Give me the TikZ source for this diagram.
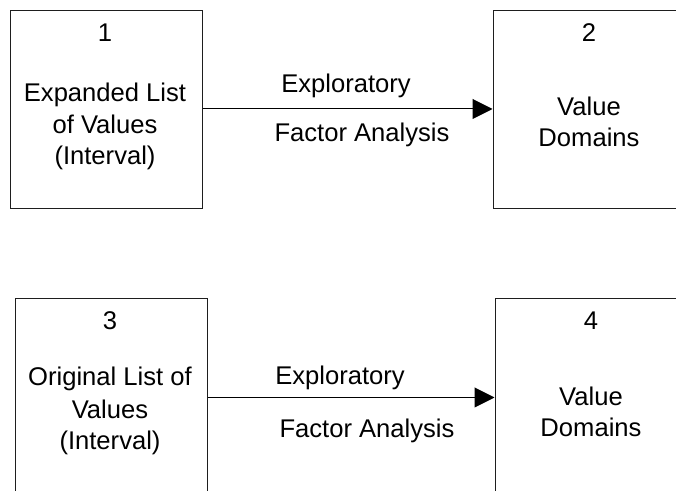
\documentclass[tikz,border=0pt]{standalone}
\usepackage{fontspec}
\setmainfont{Liberation Sans}
\usetikzlibrary{arrows.meta}
\definecolor{edge}{HTML}{1E1E1E}
\begin{document}
\begin{tikzpicture}[x=0.75pt,y=-0.75pt,
  box/.style={draw=edge,line width=0.75pt,rectangle,minimum width=144pt,minimum height=148.5pt,inner sep=0pt},
  txt/.style={anchor=base,inner sep=0pt,font=\fontsize{19.2pt}{23pt}\selectfont},
  flow/.style={draw=black,line width=0.75pt,-{Triangle[length=15pt,width=15pt]}}]
  \useasboundingbox (0,0) rectangle (676,491);
  \clip (0,0) rectangle (676,491);

  % stages
  \node[box] (b1) at (106,110) {};
  \node[box] (b2) at (589,110) {};
  \node[box] (b3) at (111,398) {};
  \node[box] (b4) at (591,398) {};

  % box 1
  \node[txt] (n1) at (105,42) {1};
  \node[txt] (t1a) at (105,102) {Expanded List};
  \node[txt] (t1b) at (105,134) {of Values};
  \node[txt] (t1c) at (105,165) {(Interval)};

  % box 2
  \node[txt] (n2) at (589,42) {2};
  \node[txt] (t2a) at (589,116) {Value};
  \node[txt] (t2b) at (589,147) {Domains};

  % box 3
  \node[txt] (n3) at (110,330) {3};
  \node[txt] (t3a) at (110,386) {Original List of};
  \node[txt] (t3b) at (110,419) {Values};
  \node[txt] (t3c) at (110,450) {(Interval)};

  % box 4
  \node[txt] (n4) at (591,330) {4};
  \node[txt] (t4a) at (591,406) {Value};
  \node[txt] (t4b) at (591,437) {Domains};

  % transitions
  \draw[flow] (b1.east |- 0,109) -- (b2.west |- 0,109);
  \node[txt] (l1a) at (346,93) {Exploratory};
  \node[txt] (l1b) at (362,142) {Factor Analysis};

  \draw[flow] (b3.east |- 0,397.5) -- (b4.west |- 0,397.5);
  \node[txt] (l2a) at (340,385) {Exploratory};
  \node[txt] (l2b) at (367,438) {Factor Analysis};
\end{tikzpicture}
\end{document}
